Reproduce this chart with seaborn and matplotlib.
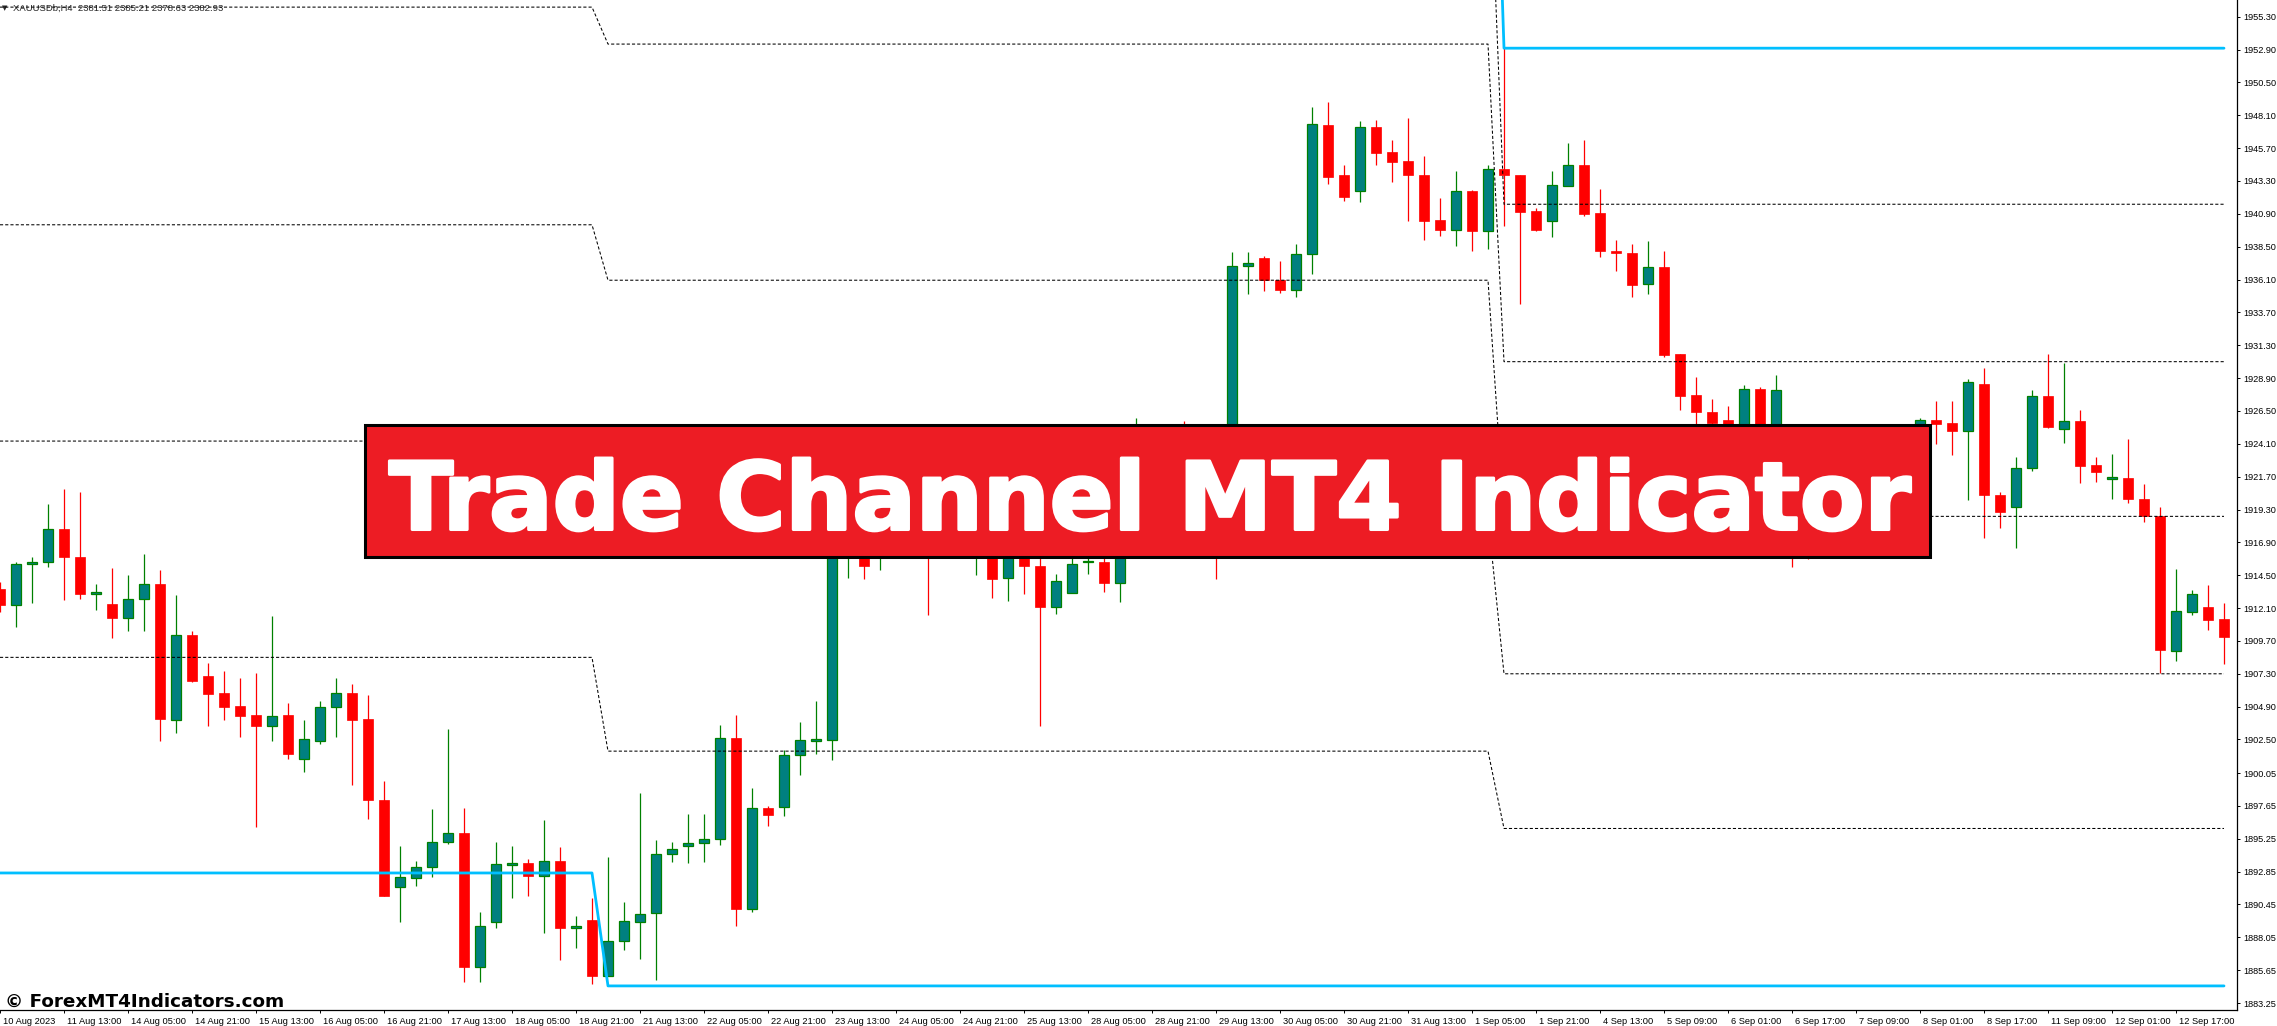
import matplotlib
matplotlib.use("Agg")
import matplotlib.pyplot as plt
import matplotlib.transforms as mtransforms
import matplotlib.patheffects as pe
from matplotlib.patches import Rectangle
import pandas as pd
import seaborn as sns

# XAUUSD H4 candles (bar 0 = 10 Aug 21:00)
opens = [1913.5, 1912.3, 1915.3, 1915.5, 1917.85, 1915.8, 1913.1, 1912.4, 1911.4, 1912.75,
         1913.85, 1903.95, 1910.1, 1907.15, 1905.9, 1904.95, 1904.3, 1903.5, 1904.3, 1901.05,
         1902.4, 1904.85, 1905.9, 1904.0, 1898.1, 1891.75, 1892.4, 1893.15, 1895.0, 1895.65,
         1885.9, 1889.2, 1893.3, 1893.45, 1892.5, 1893.6, 1888.7, 1889.3, 1885.2, 1887.75,
         1889.2, 1889.8, 1894.1, 1894.7, 1894.95, 1895.2, 1902.6, 1890.1, 1897.5, 1897.6,
         1901.4, 1902.4, 1902.45, 1917.5, 1919.0, 1916.2, 1918.3, 1917.6, 1919.4, 1917.0,
         1918.5, 1916.6, 1918.6, 1914.3, 1917.8, 1915.2, 1912.2, 1913.2, 1915.45, 1915.5,
         1913.95, 1917.5, 1920.3, 1918.6, 1920.0, 1918.9, 1919.8, 1918.4, 1937.1, 1937.65,
         1936.1, 1935.3, 1938.0, 1947.4, 1943.75, 1942.6, 1947.25, 1945.4, 1944.75, 1943.75,
         1940.45, 1939.75, 1942.55, 1939.65, 1944.2, 1943.75, 1941.1, 1940.35, 1942.95, 1944.5,
         1940.95, 1938.2, 1938.05, 1935.75, 1937.0, 1930.65, 1927.65, 1926.4, 1925.85, 1923.5,
         1928.1, 1923.8, 1924.8, 1921.0, 1919.5, 1921.8, 1920.7, 1922.9, 1921.6, 1923.6,
         1925.3, 1925.85, 1925.6, 1925.05, 1928.5, 1920.35, 1919.5, 1922.3, 1927.6, 1925.2,
         1925.75, 1922.55, 1921.55, 1921.6, 1920.1, 1918.85, 1909.0, 1911.8, 1912.2, 1911.3]
highs = [1914.0, 1915.5, 1915.85, 1919.7, 1920.8, 1920.6, 1913.85, 1915.0, 1914.55, 1916.05,
         1914.85, 1913.05, 1910.4, 1908.1, 1907.5, 1907.0, 1907.35, 1911.55, 1905.15, 1903.95,
         1905.3, 1907.0, 1906.55, 1905.75, 1899.5, 1894.7, 1893.65, 1897.45, 1903.3, 1897.5,
         1889.9, 1895.0, 1894.7, 1893.8, 1896.65, 1894.65, 1889.6, 1890.9, 1893.9, 1890.6,
         1898.6, 1895.15, 1895.0, 1897.05, 1897.05, 1903.55, 1904.3, 1898.95, 1897.65, 1901.75,
         1903.8, 1905.3, 1918.6, 1920.3, 1919.8, 1919.5, 1919.9, 1921.0, 1920.2, 1919.6,
         1919.3, 1920.0, 1919.5, 1918.7, 1918.4, 1916.8, 1914.6, 1916.5, 1916.8, 1916.6,
         1918.6, 1925.95, 1921.4, 1921.8, 1925.75, 1921.1, 1920.6, 1938.1, 1938.1, 1937.8,
         1937.45, 1938.7, 1948.7, 1949.05, 1944.45, 1947.7, 1947.75, 1946.3, 1947.9, 1945.15,
         1942.05, 1944.05, 1942.65, 1944.45, 1953.0, 1943.75, 1941.3, 1944.05, 1946.05, 1946.3,
         1942.7, 1939.0, 1938.7, 1938.9, 1938.2, 1930.65, 1928.95, 1927.4, 1926.85, 1928.4,
         1928.25, 1929.15, 1925.2, 1922.0, 1922.6, 1923.0, 1923.8, 1924.2, 1924.5, 1925.3,
         1926.0, 1927.2, 1927.25, 1928.85, 1929.65, 1920.6, 1923.15, 1928.05, 1930.65, 1930.0,
         1926.55, 1923.1, 1923.35, 1924.45, 1921.2, 1919.45, 1914.95, 1913.45, 1913.75, 1912.5]
lows = [1911.8, 1910.7, 1912.45, 1915.1, 1912.7, 1912.75, 1911.95, 1909.95, 1910.4, 1910.4,
        1902.4, 1903.0, 1906.7, 1903.5, 1903.95, 1902.65, 1896.1, 1902.4, 1901.1, 1900.1,
        1902.15, 1902.65, 1899.15, 1896.7, 1891.05, 1889.2, 1891.8, 1892.45, 1894.9, 1884.75,
        1884.8, 1888.7, 1890.9, 1891.05, 1888.4, 1886.4, 1887.3, 1884.65, 1885.2, 1887.1,
        1886.5, 1884.95, 1893.55, 1893.45, 1893.55, 1894.8, 1888.85, 1889.9, 1896.15, 1896.9,
        1899.9, 1901.45, 1901.0, 1914.3, 1914.25, 1914.9, 1916.4, 1916.9, 1911.6, 1916.3,
        1916.5, 1914.5, 1912.85, 1912.6, 1913.15, 1903.5, 1911.7, 1913.2, 1914.6, 1913.3,
        1912.55, 1916.8, 1917.0, 1917.4, 1917.6, 1917.2, 1914.25, 1917.8, 1935.05, 1935.25,
        1935.15, 1934.85, 1936.5, 1943.1, 1941.85, 1941.8, 1944.45, 1943.2, 1940.4, 1939.0,
        1939.25, 1938.55, 1938.15, 1938.35, 1940.0, 1934.3, 1939.65, 1939.2, 1942.95, 1940.75,
        1937.75, 1936.7, 1934.85, 1935.05, 1930.45, 1926.55, 1925.35, 1924.6, 1922.8, 1923.0,
        1923.1, 1923.2, 1915.1, 1915.7, 1918.6, 1919.8, 1920.0, 1920.9, 1921.0, 1922.7,
        1924.6, 1924.1, 1923.25, 1920.0, 1917.2, 1917.95, 1916.5, 1922.15, 1925.25, 1924.15,
        1921.25, 1921.3, 1920.05, 1919.75, 1918.4, 1907.35, 1908.2, 1911.6, 1910.5, 1908.0]
closes = [1912.3, 1915.3, 1915.5, 1917.85, 1915.85, 1913.1, 1913.3, 1911.4, 1912.75, 1913.85,
          1904.0, 1910.15, 1906.75, 1905.85, 1904.9, 1904.25, 1903.5, 1904.2, 1901.45, 1902.5,
          1904.85, 1905.9, 1903.95, 1898.05, 1891.1, 1892.45, 1893.15, 1895.0, 1895.7, 1885.9,
          1888.85, 1893.4, 1893.45, 1892.5, 1893.6, 1888.7, 1888.85, 1885.2, 1887.75, 1889.25,
          1889.75, 1894.1, 1894.5, 1894.95, 1895.2, 1902.6, 1890.15, 1897.5, 1897.0, 1901.4,
          1902.45, 1902.5, 1918.0, 1919.2, 1915.15, 1918.3, 1917.6, 1919.4, 1917.0, 1918.5,
          1917.2, 1918.8, 1914.25, 1917.8, 1915.15, 1912.2, 1914.05, 1915.35, 1915.55, 1913.9,
          1917.5, 1920.3, 1918.6, 1920.0, 1918.9, 1919.8, 1918.4, 1937.1, 1937.3, 1936.05,
          1935.3, 1938.0, 1947.45, 1943.6, 1942.1, 1947.25, 1945.35, 1944.7, 1943.7, 1940.4,
          1939.75, 1942.55, 1939.65, 1944.15, 1943.7, 1941.05, 1939.7, 1943.0, 1944.5, 1940.9,
          1938.15, 1938.05, 1935.7, 1937.0, 1930.6, 1927.6, 1926.4, 1925.65, 1923.5, 1928.1,
          1923.8, 1928.0, 1921.0, 1919.5, 1921.8, 1920.7, 1922.9, 1921.6, 1923.6, 1925.3,
          1925.85, 1925.55, 1925.05, 1928.6, 1920.35, 1919.15, 1922.3, 1927.6, 1925.3, 1925.75,
          1922.5, 1922.05, 1921.65, 1920.05, 1918.8, 1909.05, 1911.9, 1913.1, 1911.2, 1910.0]

# channel levels (top, 5 inner, bottom) for three stretches of bars
seg_bars = [0, 37, 38, 93, 94, 139]
levels_a = [1987.6, 1971.8, 1956.0, 1940.1, 1924.3, 1908.5, 1892.75]
levels_b = [1987.7, 1970.5, 1953.3, 1936.05, 1918.8, 1901.65, 1884.5]
levels_c = [1953.0, 1941.6, 1930.1, 1918.8, 1907.3, 1896.0, 1884.5]

time_ticks = list(range(0, 137, 4))
time_labels = ["10 Aug 2023", "11 Aug 13:00", "14 Aug 05:00", "14 Aug 21:00", "15 Aug 13:00",
               "16 Aug 05:00", "16 Aug 21:00", "17 Aug 13:00", "18 Aug 05:00", "18 Aug 21:00",
               "21 Aug 13:00", "22 Aug 05:00", "22 Aug 21:00", "23 Aug 13:00", "24 Aug 05:00",
               "24 Aug 21:00", "25 Aug 13:00", "28 Aug 05:00", "28 Aug 21:00", "29 Aug 13:00",
               "30 Aug 05:00", "30 Aug 21:00", "31 Aug 13:00", "1 Sep 05:00", "1 Sep 21:00",
               "4 Sep 13:00", "5 Sep 09:00", "6 Sep 01:00", "6 Sep 17:00", "7 Sep 09:00",
               "8 Sep 01:00", "8 Sep 17:00", "11 Sep 09:00", "12 Sep 01:00", "12 Sep 17:00"]
price_labels = ["1955.30", "1952.90", "1950.50", "1948.10", "1945.70", "1943.30", "1940.90",
                "1938.50", "1936.10", "1933.70", "1931.30", "1928.90", "1926.50", "1924.10",
                "1921.70", "1919.30", "1916.90", "1914.50", "1912.10", "1909.70", "1907.30",
                "1904.90", "1902.50", "1900.05", "1897.65", "1895.25", "1892.85", "1890.45",
                "1888.05", "1885.65", "1883.25"]

sns.set_theme(style="white")
plt.rcParams["font.family"] = ["Liberation Sans", "DejaVu Sans"]

df = pd.DataFrame({"bar": range(len(opens)), "open": opens, "high": highs,
                   "low": lows, "close": closes})
bull = df[df["close"] >= df["open"]]
bear = df[df["close"] < df["open"]]

W, H = 2277, 1026
fig = plt.figure(figsize=(W / 100, H / 100), dpi=100)
fig.patch.set_facecolor("white")
ax = fig.add_axes([0, 16 / H, 2237 / W, 1 - 16 / H])
ax.set_facecolor("white")

# wicks, then bodies
ax.vlines(bull["bar"], bull["low"], bull["high"], colors="#008000", lw=0.9, zorder=2)
ax.vlines(bear["bar"], bear["low"], bear["high"], colors="#ff0000", lw=0.9, zorder=2)
ax.bar(bull["bar"], bull["close"] - bull["open"], bottom=bull["open"], width=0.64,
       color="#008080", edgecolor="#008000", linewidth=0.9, zorder=3)
ax.bar(bear["bar"], bear["open"] - bear["close"], bottom=bear["close"], width=0.64,
       color="#ff0000", edgecolor="#ff0000", linewidth=0.5, zorder=3)

# channel lines
for j in range(7):
    ys = [levels_a[j], levels_a[j], levels_b[j], levels_b[j], levels_c[j], levels_c[j]]
    if j in (0, 6):
        sns.lineplot(x=seg_bars, y=ys, ax=ax, color="#00bfff", lw=2.0,
                     estimator=None, sort=False, zorder=4)
    else:
        sns.lineplot(x=seg_bars, y=ys, ax=ax, color="black", lw=0.75,
                     linestyle=(0, (3, 2)), estimator=None, sort=False, zorder=4)

ax.set_xlim(0, 2237 / 16)
ax.set_ylim(1882.74, 1956.52)
ax.set_xlabel("")
ax.set_ylabel("")

for side in ("top", "left"):
    ax.spines[side].set_visible(False)
for side in ("right", "bottom"):
    ax.spines[side].set_color("black")
    ax.spines[side].set_linewidth(0.9)

ax.yaxis.tick_right()
ax.set_yticks([float(p) for p in price_labels], labels=price_labels)
ax.tick_params(axis="y", right=True, left=False, direction="out", length=2.5,
               width=0.7, pad=2, labelsize=6.6, colors="black")
ax.set_xticks(time_ticks, labels=time_labels)
ax.tick_params(axis="x", bottom=True, direction="out", length=2.5, width=0.7,
               pad=2.5, labelsize=6.7, colors="black")
shift = mtransforms.ScaledTranslation(3 / 100, 0, fig.dpi_scale_trans)
for lab in ax.get_xticklabels():
    lab.set_horizontalalignment("left")
    lab.set_transform(lab.get_transform() + shift)

# symbol header
ax.text(2 / 2237, 1 - 8 / 1010, "\u25bc", transform=ax.transAxes, fontsize=5,
        family="DejaVu Sans", va="center", ha="left", zorder=1)
ax.text(13 / 2237, 1 - 8 / 1010, "XAUUSDb,H4  2381.51 2385.21 2378.63 2382.93",
        transform=ax.transAxes, fontsize=6.8, va="center", ha="left", zorder=1)

# banner overlay in pixel coordinates
over = fig.add_axes([0, 0, 1, 1])
over.set_xlim(0, W)
over.set_ylim(H, 0)
over.axis("off")
over.patch.set_alpha(0)
over.add_patch(Rectangle((365, 425), 1565, 132, facecolor="#ed1c24",
                         edgecolor="black", linewidth=2.2))
over.text(389, 529.5, "Trade Channel MT4 Indicator", color="white", fontsize=67.7,
          family="DejaVu Sans", weight="bold", ha="left", va="baseline",
          path_effects=[pe.withStroke(linewidth=2.2, foreground="white")])
over.text(5, 1007, "\u00a9 ForexMT4Indicators.com", color="black", fontsize=13.2,
          family="DejaVu Sans", weight="bold", ha="left", va="baseline")

fig.savefig("out.png", dpi=100)
